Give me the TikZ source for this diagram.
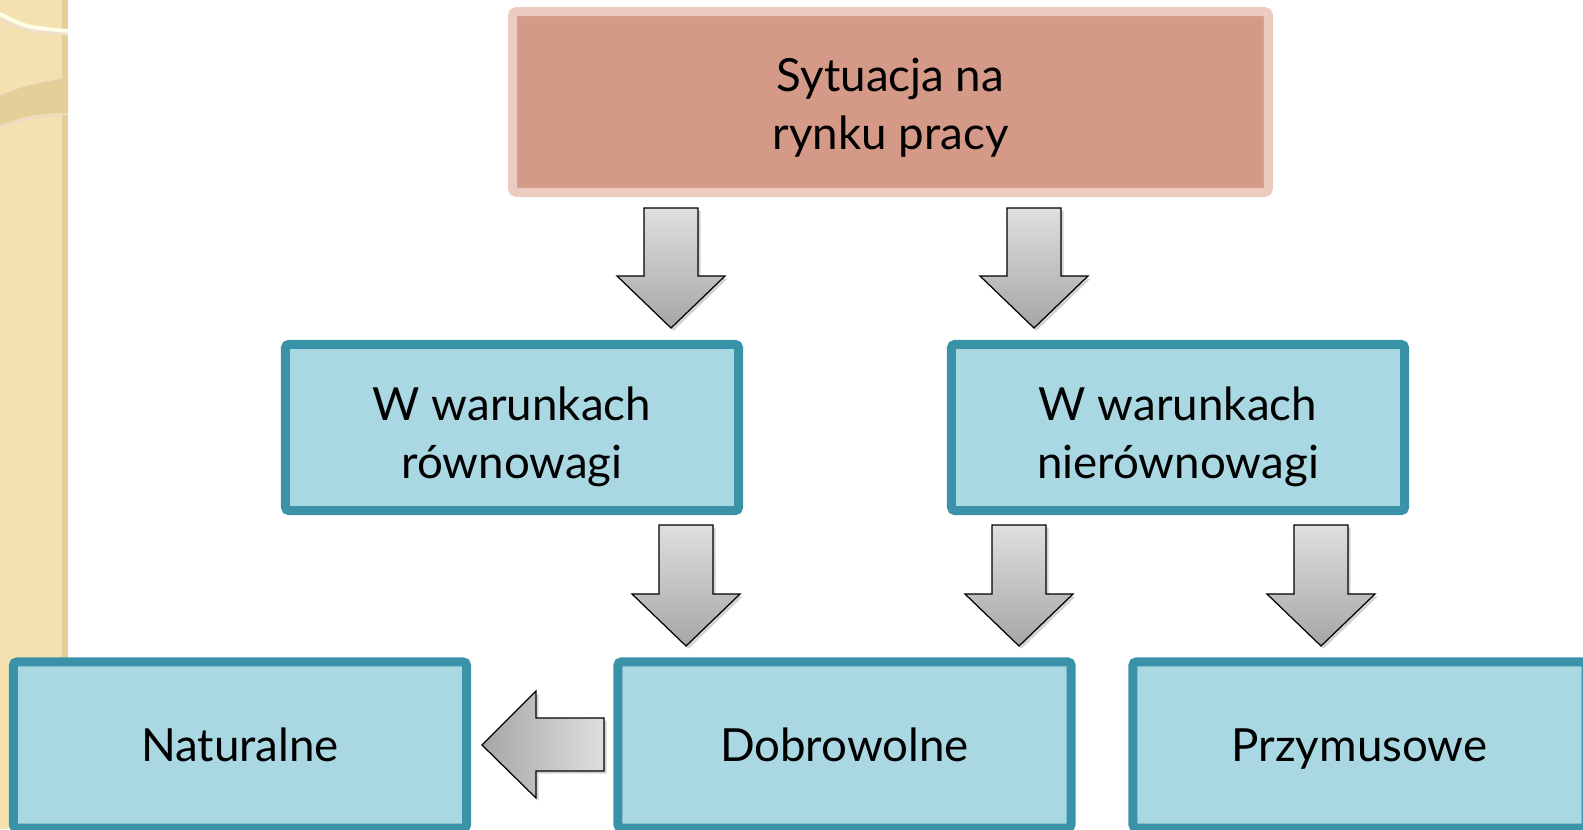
\documentclass[tikz,border=0pt]{standalone}
\usepackage{fontspec}
\setmainfont{Lato}
\usetikzlibrary{positioning,shadows}
\definecolor{rynekfill}{HTML}{D59A87}
\definecolor{rynekline}{HTML}{ECCBC1}
\definecolor{boxfill}{HTML}{A9D7E2}
\definecolor{boxline}{HTML}{3A92A8}
\definecolor{strip}{HTML}{F3E1B2}
\definecolor{stripdark}{HTML}{E4CF98}
\newcommand{\liniaup}{\rule{0pt}{25.5pt}}
\tikzset{
  rynek/.style={draw=rynekline,fill=rynekfill,line width=0.18cm,rounded corners=0.08cm,
    minimum width=15.12cm,minimum height=3.62cm,align=center,inner sep=0pt},
  kind/.style={draw=boxline,fill=boxfill,line width=0.18cm,rounded corners=0.08cm,
    minimum width=9.07cm,minimum height=3.33cm,align=center,inner sep=0pt,text depth=-1pt},
  blockarrow/.style={draw=black,line width=0.7pt,line join=miter,
    drop shadow={opacity=0.35,shadow xshift=1.5pt,shadow yshift=-1.5pt}}
}
\begin{document}
\begin{tikzpicture}[x=0.02cm,y=-0.02cm,font=\fontsize{26}{33}\selectfont]
  \useasboundingbox (0,0) rectangle (1583,829);
  \clip (0,0) rectangle (1583,829);
  % left strip
  \fill[strip] (0,0) rectangle (68,829);
  \fill[stripdark] (62,0) rectangle (68,829);
  \fill[stripdark] (0,96) .. controls (25,86) .. (68,78) -- (68,112) .. controls (25,116) .. (0,125) -- cycle;
  \draw[brown!40,line width=0.6pt] (0,96) .. controls (25,86) .. (68,78);
  \draw[brown!30,line width=1.2pt] (0,127) .. controls (25,118) .. (68,114);
  \draw[brown!25,line width=1.5pt] (0,18) .. controls (25,30) .. (68,34);
  \draw[white!90!yellow,line width=2.2pt] (0,14) .. controls (25,27) .. (68,31);

  % boxes
  \node[rynek] (sytuacja) at (890.5,102) {\liniaup Sytuacja na\\rynku pracy};
  \node[kind] (rownowaga) at (512,427.5) {\liniaup W warunkach\\równowagi};
  \node[kind] (nierownowaga) at (1178,427.5) {\liniaup W warunkach\\nierównowagi};
  \node[kind] (naturalne) at (240,745) {Naturalne};
  \node[kind] (dobrowolne) at (844.5,745) {Dobrowolne};
  \node[kind] (przymusowe) at (1359.5,745) {Przymusowe};

  % down arrows: centre x / top / head / tip
  \foreach \cx/\ty/\hy/\tipy in {671/208/276/328, 1034/208/276/328,
      686/525/594/646, 1019/525/594/646, 1321/525/594/646}
    \path[blockarrow,top color=gray!25,bottom color=gray!70]
      (\cx-27,\ty) -- (\cx+27,\ty) -- (\cx+27,\hy) -- (\cx+54,\hy)
      -- (\cx,\tipy) -- (\cx-54,\hy) -- (\cx-27,\hy) -- cycle;
  % left arrow
  \path[blockarrow,left color=gray!70,right color=gray!25]
    (604,718) -- (604,771) -- (536,771) -- (536,798) -- (482,745)
    -- (536,691) -- (536,718) -- cycle;
\end{tikzpicture}
\end{document}
